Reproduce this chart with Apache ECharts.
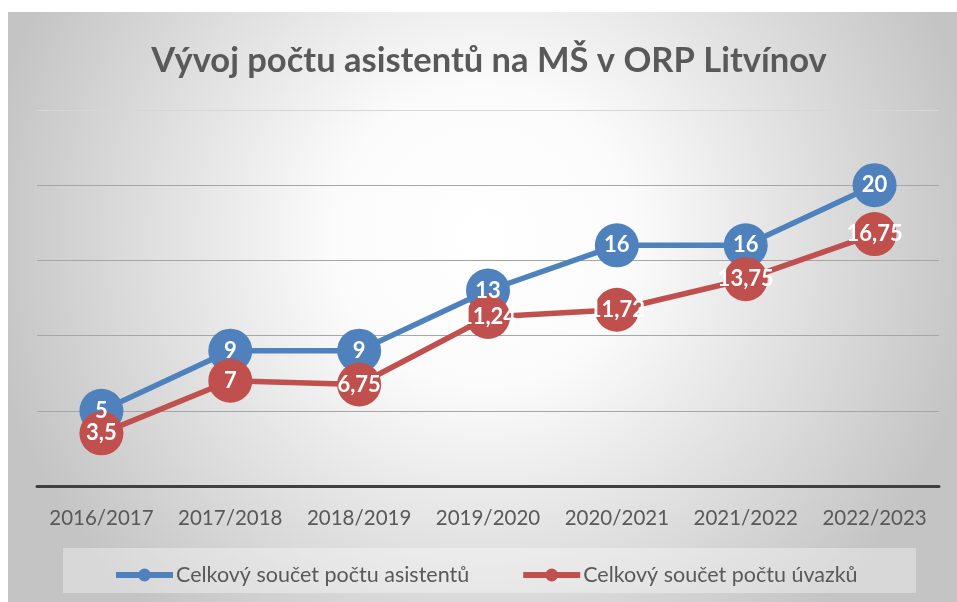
<!DOCTYPE html>
<html>
<head>
<meta charset="utf-8">
<script src="https://cdn.jsdelivr.net/npm/echarts@6/dist/echarts.min.js"></script>
<style>
  html, body { margin: 0; padding: 0; background: #fff; }
  #main { width: 957px; height: 602px; }
</style>
</head>
<body>
<div id="main"></div>
<script>
// data
const categories = ["2016/2017", "2017/2018", "2018/2019", "2019/2020", "2020/2021", "2021/2022", "2022/2023"];
const asistenti = [5, 9, 9, 13, 16, 16, 20];
const uvazky = [3.5, 7, 6.75, 11.24, 11.72, 13.75, 16.75];
const seriesNames = ["Celkový součet počtu asistentů", "Celkový součet počtu úvazků"];

const font = "Lato, 'Open Sans', sans-serif";

// label with decimal comma, like in the original
function commaLabel(p) {
  return String(p.value).replace(".", ",");
}

function lineSeries(name, data, color) {
  return {
    name: name,
    type: "line",
    data: data,
    symbol: "circle",
    symbolSize: 44,
    itemStyle: { color: color },
    lineStyle: { color: color, width: 5.5 },
    label: {
      show: true,
      position: "inside",
      color: "#fff",
      fontFamily: font,
      fontWeight: "bold",
      fontSize: 22,
      formatter: commaLabel
    },
    emphasis: { disabled: true }
  };
}

const chart = echarts.init(document.getElementById("main"));
chart.setOption({
  animation: false,
  graphic: [
    {
      type: "rect",
      z: -10,
      shape: { x: 8, y: 12, width: 949, height: 590 },
      style: {
        fill: new echarts.graphic.RadialGradient(0.5, 0.38, 0.85, [
          { offset: 0, color: "#ffffff" },
          { offset: 0.3, color: "#fbfbfb" },
          { offset: 1, color: "#c4c4c4" }
        ])
      },
      silent: true
    },
    {
      type: "rect",
      z: -9,
      shape: { x: 63, y: 548, width: 853, height: 45 },
      style: { fill: "rgba(255,255,255,0.35)" },
      silent: true
    }
  ],
  title: {
    text: "Vývoj počtu asistentů na MŠ v ORP Litvínov",
    left: 484,
    textAlign: "center",
    top: 38,
    textStyle: {
      fontFamily: font,
      fontSize: 34.5,
      fontWeight: "bold",
      color: "#595959"
    }
  },
  legend: {
    data: seriesNames,
    left: 108,
    top: 559,
    itemWidth: 57,
    itemHeight: 16,
    itemGap: 51,
    lineStyle: { width: 6 },
    textStyle: { fontFamily: font, fontSize: 21.5, color: "#595959", padding: [0, 0, 0, -2] }
  },
  grid: { left: 37, right: 18, top: 110, bottom: 116 },
  xAxis: {
    type: "category",
    data: categories,
    boundaryGap: true,
    axisLine: { lineStyle: { color: "#404040", width: 3 } },
    axisTick: { show: false },
    axisLabel: {
      interval: 0,
      fontFamily: font,
      fontSize: 20.5,
      color: "#595959",
      margin: 22
    }
  },
  yAxis: {
    type: "value",
    min: 0,
    max: 25,
    interval: 5,
    axisLabel: { show: false },
    axisLine: { show: false },
    axisTick: { show: false },
    splitLine: {
      lineStyle: {
        color: ["#a6a6a6", "#a6a6a6", "#a6a6a6", "#a6a6a6", "#a6a6a6", "#d6d6d6"],
        width: 1
      }
    }
  },
  series: [
    lineSeries(seriesNames[0], asistenti, "#4f81bd"),
    lineSeries(seriesNames[1], uvazky, "#c0504d")
  ]
});
</script>
</body>
</html>
